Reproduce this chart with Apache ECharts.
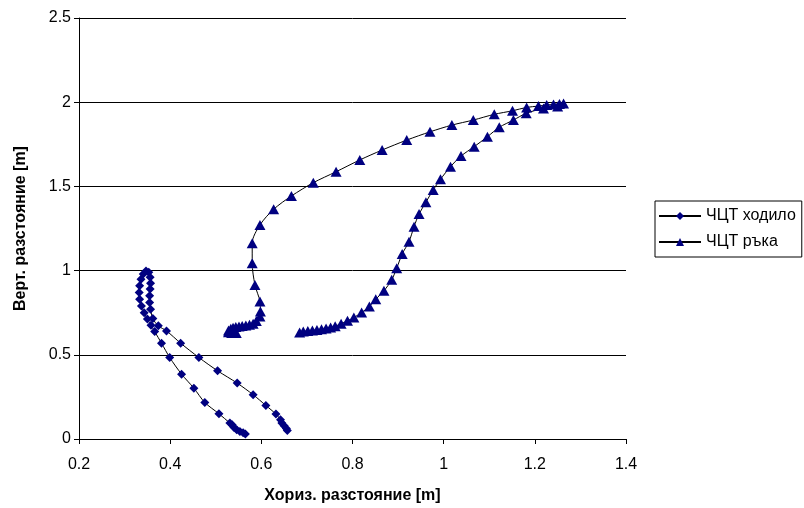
<!DOCTYPE html>
<html>
<head>
<meta charset="utf-8">
<script src="https://cdn.jsdelivr.net/npm/echarts@6/dist/echarts.min.js"></script>
<style>
  html, body { margin: 0; padding: 0; background: #fff; }
  #chart { width: 804px; height: 508px; }
</style>
</head>
<body>
<div id="chart"></div>
<script>
// Centre-of-mass trajectory of the pole (ходило): x and y in metres
const poleX = [0.565, 0.560, 0.553, 0.546, 0.540, 0.536, 0.531, 0.507, 0.476, 0.452, 0.425, 0.399, 0.381, 0.366,
  0.358, 0.350, 0.343, 0.337, 0.333, 0.332, 0.333, 0.336, 0.341, 0.347, 0.353, 0.356, 0.357, 0.356, 0.355, 0.355,
  0.357, 0.362, 0.374, 0.392, 0.423, 0.463, 0.504, 0.547, 0.582, 0.610, 0.632, 0.642, 0.645, 0.650, 0.655, 0.657];
const poleY = [0.030, 0.037, 0.045, 0.055, 0.068, 0.085, 0.095, 0.150, 0.217, 0.302, 0.385, 0.484, 0.569, 0.638,
  0.675, 0.712, 0.750, 0.790, 0.830, 0.870, 0.910, 0.948, 0.980, 0.998, 0.990, 0.960, 0.925, 0.890, 0.850, 0.810,
  0.770, 0.715, 0.672, 0.642, 0.569, 0.484, 0.405, 0.332, 0.263, 0.199, 0.148, 0.114, 0.095, 0.078, 0.062, 0.050];

// Centre-of-mass trajectory of the hand (ръка): x and y in metres
const handX = [0.545, 0.535, 0.528, 0.528, 0.533, 0.538, 0.544, 0.551, 0.558, 0.566, 0.574, 0.582, 0.589, 0.597,
  0.598, 0.597, 0.586, 0.580, 0.580, 0.597, 0.627, 0.666, 0.714, 0.764, 0.816, 0.865, 0.919, 0.970, 1.018, 1.065,
  1.111, 1.151, 1.182, 1.208, 1.226, 1.241, 1.254, 1.263, 1.250, 1.219, 1.181, 1.153, 1.122, 1.096, 1.067, 1.038,
  1.015, 0.993, 0.977, 0.961, 0.946, 0.935, 0.924, 0.909, 0.897, 0.886, 0.869, 0.851, 0.837, 0.820, 0.803, 0.789,
  0.775, 0.762, 0.752, 0.742, 0.732, 0.722, 0.712, 0.702, 0.692, 0.684];
const handY = [0.630, 0.630, 0.634, 0.644, 0.654, 0.660, 0.665, 0.668, 0.671, 0.674, 0.678, 0.684, 0.700, 0.727,
  0.757, 0.816, 0.915, 1.044, 1.163, 1.271, 1.364, 1.443, 1.522, 1.587, 1.657, 1.716, 1.775, 1.824, 1.864, 1.894,
  1.928, 1.949, 1.969, 1.977, 1.983, 1.987, 1.989, 1.993, 1.975, 1.963, 1.934, 1.894, 1.851, 1.795, 1.736, 1.680,
  1.617, 1.542, 1.479, 1.406, 1.336, 1.261, 1.172, 1.099, 1.014, 0.945, 0.880, 0.830, 0.787, 0.751, 0.721, 0.702,
  0.684, 0.670, 0.662, 0.656, 0.652, 0.648, 0.645, 0.642, 0.638, 0.633];

const seriesNames = ['ЧЦТ ходило', 'ЧЦТ ръка'];
const xTickLabels = ['0.2', '0.4', '0.6', '0.8', '1', '1.2', '1.4'];
const yTickLabels = ['0', '0.5', '1', '1.5', '2', '2.5'];
const xTitle = 'Хориз. разстояние [m]';
const yTitle = 'Верт. разстояние [m]';

const pairs = (xs, ys) => xs.map((x, i) => [x, ys[i]]);

const FONT = '"Liberation Sans", Arial, sans-serif';
const markColor = '#000080';

const chart = echarts.init(document.getElementById('chart'), null, { renderer: 'canvas' });

chart.setOption({
  backgroundColor: '#ffffff',
  animation: false,
  textStyle: { fontFamily: FONT, color: '#000' },
  grid: { left: 79, top: 18, right: 178, bottom: 69, containLabel: false, outerBoundsMode: 'none' },
  legend: {
    orient: 'vertical',
    left: 655,
    top: 201,
    data: seriesNames,
    itemWidth: 42,
    itemHeight: 10,
    itemGap: 10,
    padding: [7, 6, 7, 3],
    borderColor: '#000',
    borderWidth: 1,
    backgroundColor: '#fff',
    textStyle: { fontFamily: FONT, fontSize: 16, color: '#000', padding: [0, 0, 0, 0] }
  },
  xAxis: {
    type: 'value',
    min: 0.2,
    max: 1.4,
    interval: 0.2,
    name: xTitle,
    nameLocation: 'middle',
    nameGap: 49,
    nameTextStyle: { fontFamily: FONT, fontSize: 16, fontWeight: 'bold', color: '#000' },
    axisLine: { show: true, onZero: false, lineStyle: { color: '#000', width: 1 } },
    axisTick: { show: true, inside: false, length: 5, lineStyle: { color: '#000' } },
    axisLabel: {
      fontFamily: FONT, fontSize: 16, color: '#000', margin: 18,
      formatter: v => xTickLabels[Math.round((v - 0.2) / 0.2)]
    },
    splitLine: { show: false }
  },
  yAxis: {
    type: 'value',
    min: 0,
    max: 2.5,
    interval: 0.5,
    name: yTitle,
    nameLocation: 'middle',
    nameGap: 50,
    nameTextStyle: { fontFamily: FONT, fontSize: 16, fontWeight: 'bold', color: '#000' },
    axisLine: { show: true, onZero: false, lineStyle: { color: '#000', width: 1 } },
    axisTick: { show: true, inside: false, length: 5, lineStyle: { color: '#000' } },
    axisLabel: {
      fontFamily: FONT, fontSize: 16, color: '#000', margin: 8,
      formatter: v => yTickLabels[Math.round(v / 0.5)]
    },
    splitLine: { show: true, lineStyle: { color: '#000', width: 1 } }
  },
  series: [
    {
      name: seriesNames[0],
      type: 'line',
      data: pairs(poleX, poleY),
      smooth: 0.3,
      showAllSymbol: true,
      symbol: 'diamond',
      symbolSize: 9,
      itemStyle: { color: markColor, borderWidth: 0 },
      lineStyle: { color: '#000', width: 1 },
      z: 3
    },
    {
      name: seriesNames[1],
      type: 'line',
      data: pairs(handX, handY),
      smooth: 0.3,
      showAllSymbol: true,
      symbol: 'triangle',
      symbolSize: [11, 10],
      itemStyle: { color: markColor, borderWidth: 0 },
      lineStyle: { color: '#000', width: 1 },
      z: 3
    }
  ]
});
</script>
</body>
</html>
